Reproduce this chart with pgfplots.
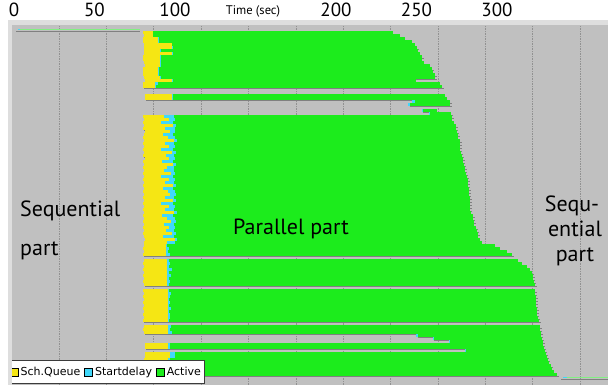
\documentclass[border=0pt]{standalone}
\usepackage{pgfplots}
\pgfplotsset{compat=1.18}
\usepackage{pgfplotstable}
\usepackage{fontspec}
\setmainfont{PT Sans}
\newfontfamily\legfont{DejaVu Sans}
\definecolor{bg}{RGB}{192,192,192}
\definecolor{band}{RGB}{222,222,222}
\definecolor{ylw}{RGB}{245,230,20}
\definecolor{cyn}{RGB}{64,216,250}
\definecolor{grn}{RGB}{28,236,28}
\definecolor{shd}{RGB}{128,128,128}
\definecolor{seqg}{RGB}{130,240,130}
\definecolor{gridc}{RGB}{145,145,145}
\pgfplotsset{
  seg/.style n args={2}{mark=none, draw=none, forget plot, error bars/.cd, x dir=plus, x explicit, error mark=none, error bar style={draw=#1, line width=#2}},
  legsq/.style={legend image code/.code={\fill[##1] (0pt,-4pt) rectangle (8pt,4pt);}},
}
\pgfplotstableread{
slot s q d e
1 80.1 86.3 86.6 235.4
2 80.7 86.3 86.6 239.8
3 80.1 89.4 89.8 242.9
4 80.1 89.4 90.0 247.2
5 80.7 98.1 98.4 249.0
6 80.7 98.1 98.6 250.3
7 80.7 90.7 91.0 251.0
8 80.7 98.1 98.5 252.2
9 80.1 90.7 91.0 253.4
10 80.1 90.7 91.2 253.4
11 80.7 90.7 91.0 254.7
12 81.4 90.7 91.5 258.4
13 80.1 89.4 89.8 259.5
14 80.1 89.4 90.0 260.2
15 80.1 89.4 89.8 261.5
16 80.7 90.7 91.0 261.5
17 81.4 98.1 98.5 249.6
18 80.1 87.6 89.4 264.6
19 80.1 87.6 88.0 265.8
22 81.4 98.1 98.5 267.7
23 81.4 98.1 98.6 269.0
24 247.5 247.5 249.0 270.8
25 245.0 245.0 246.0 271.0
27 253.4 253.4 254.0 262.7
28 258.0 258.0 258.5 271.5
29 80.1 93.0 99.5 272.0
30 80.7 96.0 100.0 272.0
31 80.1 91.5 99.0 273.0
32 80.7 99.0 100.5 274.5
33 80.1 94.0 99.8 274.5
34 81.4 97.0 100.2 275.0
35 80.7 92.5 99.0 276.0
36 80.1 95.5 100.0 276.0
37 80.7 99.5 101.0 277.0
38 80.1 93.5 99.5 277.0
39 80.7 96.5 100.0 277.0
40 80.1 91.0 98.5 277.0
41 80.7 98.0 100.5 277.5
42 80.1 94.5 99.5 278.0
43 81.4 96.0 100.0 278.9
44 80.1 92.0 99.0 278.9
45 80.7 99.0 100.8 279.5
46 80.1 95.0 99.6 280.1
47 80.7 93.0 99.2 280.1
48 80.1 97.5 100.3 280.5
49 80.7 91.5 98.8 281.5
50 80.1 96.0 100.0 282.0
51 80.7 94.0 99.5 282.0
52 80.1 99.0 100.8 282.0
53 80.7 92.5 99.0 282.5
54 80.1 95.5 100.0 282.5
55 80.7 97.0 100.5 282.5
56 80.1 93.5 99.4 283.0
57 80.7 98.5 100.6 283.0
58 80.1 91.0 98.5 283.2
59 80.7 96.5 100.2 283.2
60 80.1 94.0 99.5 283.5
61 80.7 99.5 101.0 284.0
62 80.1 92.0 99.0 285.0
63 80.7 95.0 99.8 285.1
64 80.1 97.5 100.4 285.5
65 80.7 93.0 99.3 286.0
66 80.1 96.0 100.0 287.0
67 80.7 94.5 99.6 287.5
68 80.1 98.0 100.5 288.0
69 80.7 92.5 99.2 288.5
70 81.4 100.0 101.2 289.4
71 80.7 95.0 99.8 290.7
72 80.7 94.4 95.0 298.8
73 80.1 94.4 96.0 302.0
74 80.7 94.4 95.5 306.0
75 80.1 94.4 96.9 309.3
77 80.7 95.0 96.0 313.0
78 80.1 95.0 97.0 315.5
79 80.7 95.0 96.5 318.6
80 80.1 95.0 98.0 320.5
81 80.7 95.0 96.0 321.5
82 80.1 95.0 97.5 322.4
83 80.7 95.0 96.5 322.4
84 80.1 95.0 97.0 323.0
85 80.7 95.0 96.0 323.6
87 80.1 95.7 96.5 323.6
88 80.7 95.7 97.5 323.8
89 80.1 95.7 96.9 324.0
90 80.7 95.7 96.0 324.0
91 80.1 95.7 97.0 324.2
92 80.7 95.7 96.5 324.4
93 80.1 95.7 97.5 324.6
94 80.7 95.7 96.2 324.8
95 80.1 95.7 96.9 325.0
96 80.7 95.7 97.0 325.5
97 80.1 95.7 96.5 326.0
99 80.7 95.7 97.5 326.7
100 80.1 95.7 97.0 327.0
101 80.7 95.7 98.0 327.5
102 250.0 250.0 251.0 327.5
103 260.0 260.0 261.0 328.0
104 270.0 270.0 271.0 328.6
105 81.4 95.7 96.9 328.6
106 81.4 95.7 96.9 329.0
107 280.0 280.0 281.0 330.0
108 81.4 96.9 100.0 330.5
109 81.4 96.9 100.0 331.0
110 80.7 95.7 97.0 331.7
111 80.1 95.7 96.9 332.0
112 80.7 95.7 97.5 333.5
113 80.1 95.7 96.5 334.2
114 80.7 95.7 97.0 335.5
115 80.1 95.7 98.0 337.3
}\jobs
\pgfplotstableread{
slot s d e
0 2.5 3.5 78.2
116 341.0 343.5 369.5
}\seqjobs
\begin{document}
\begin{tikzpicture}
\useasboundingbox (-10pt,0pt) rectangle (598pt,385pt);
\begin{axis}[
  at={(0pt,0pt)}, anchor=south west,
  scale only axis, width=598pt, height=360pt,
  xmin=-2.48, xmax=368.95, ymin=-118.5, ymax=1.5,
  axis background/.style={fill=bg},
  axis line style={draw=none},
  xtick={0,50,100,200,250,300},
  xticklabel pos=upper,
  major tick length=0pt,
  xtick style={draw=none},
  ytick=\empty,
  /pgf/number format/assume math mode=true,
  xticklabel style={font=\fontsize{19}{21}\selectfont, anchor=base, yshift=8pt},
  extra x ticks={27.95,57.37,86.79,116.21,145.63,175.05,204.47,233.89,263.31,292.73,322.15,351.57},
  extra x tick labels={},
  extra x tick style={grid=major, major grid style={draw=gridc, dash pattern=on 1.5pt off 1pt, line width=0.5pt}},
  legsq,
  legend columns=3,
  legend style={at={(-0.0034,0.003)}, anchor=south west, draw={rgb,255:red,60;green,60;blue,60}, line width=0.8pt, fill=white,
    font=\legfont\fontsize{11}{13}\selectfont, inner xsep=1.5pt, inner ysep=4.5pt,
    /tikz/every even column/.append style={column sep=2pt}},
]
\addplot[seg={shd}{0.9pt}] table[x expr=\thisrow{s}+0.7, y expr=-\thisrow{slot}-0.52, x error expr=\thisrow{e}-\thisrow{s}+0.5]{\jobs};
\addplot[seg={ylw}{2.1pt}] table[x=s, y expr=-\thisrow{slot}, x error expr=\thisrow{q}-\thisrow{s}]{\jobs};
\addplot[seg={cyn}{2.1pt}] table[x=q, y expr=-\thisrow{slot}, x error expr=\thisrow{d}-\thisrow{q}]{\jobs};
\addplot[seg={grn}{2.1pt}] table[x=d, y expr=-\thisrow{slot}, x error expr=\thisrow{e}-\thisrow{d}]{\jobs};
\addplot[seg={shd}{1pt}] table[x expr=\thisrow{s}-1, y expr=-\thisrow{slot}-0.55, x error expr=\thisrow{e}-\thisrow{s}+1]{\seqjobs};
\addplot[seg={cyn}{1.5pt}] table[x=s, y expr=-\thisrow{slot}, x error expr=\thisrow{d}-\thisrow{s}]{\seqjobs};
\addplot[seg={seqg}{1.5pt}] table[x=d, y expr=-\thisrow{slot}, x error expr=\thisrow{e}-\thisrow{d}]{\seqjobs};
\addlegendimage{fill=ylw}
\addlegendentry{Sch.Queue}
\addlegendimage{fill=cyn}
\addlegendentry{Startdelay}
\addlegendimage{fill=grn}
\addlegendentry{Active}
\end{axis}
\fill[band] (-2pt,0pt) rectangle (2pt,365pt);
\fill[band] (-2pt,360pt) rectangle (598pt,365pt);
\node[anchor=base, inner sep=0pt, font=\fontsize{12.5}{14}\selectfont] at (243pt,370pt) {Time (sec)};
\begin{scope}[every node/.style={inner sep=0pt, font=\fontsize{22}{24}\selectfont}]
\node[anchor=base west] at (10pt,168pt) {Sequential};
\node[anchor=base west] at (10pt,129pt) {part};
\node[anchor=base west] at (223pt,150pt) {Parallel part};
\node[anchor=base] at (562pt,173pt) {Sequ-};
\node[anchor=base] at (565pt,148pt) {ential};
\node[anchor=base] at (565pt,123pt) {part};
\end{scope}
\end{tikzpicture}
\end{document}
